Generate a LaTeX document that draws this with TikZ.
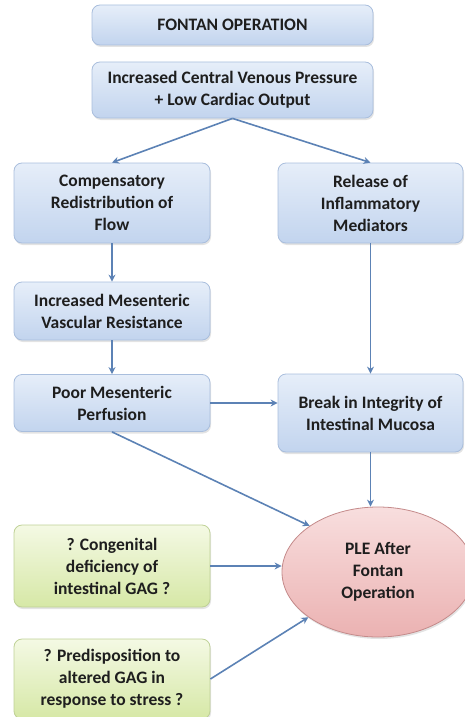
\documentclass[tikz,border=0pt]{standalone}
\usepackage{fontspec}
\setmainfont{Carlito}
\usetikzlibrary{shapes.geometric,arrows.meta,shadows}
\definecolor{boxtop}{HTML}{E6EEF9}
\definecolor{boxbottom}{HTML}{C2D4EE}
\definecolor{boxedge}{HTML}{A9BEDD}
\definecolor{greentop}{HTML}{F4F9E4}
\definecolor{greenbottom}{HTML}{D6E8A6}
\definecolor{greenedge}{HTML}{BFD196}
\definecolor{pinktop}{HTML}{F8DEDE}
\definecolor{pinkbottom}{HTML}{EBB2B2}
\definecolor{pinkedge}{HTML}{C48A8A}
\definecolor{arrowblue}{HTML}{5C82B5}
\definecolor{textgrey}{HTML}{1E1E1E}

\begin{document}
\begin{tikzpicture}[x=1pt,y=-1pt]
    % Styles
    \tikzstyle{blue box}=[rounded corners=8pt,draw=boxedge,thick,top color=boxtop,bottom color=boxbottom,
        align=center,text=textgrey,font=\bfseries\fontsize{17.5}{22}\selectfont,
        drop shadow={opacity=0.22,shadow xshift=1pt,shadow yshift=-2pt}]
    \tikzstyle{green box}=[blue box,draw=greenedge,top color=greentop,bottom color=greenbottom]
    \tikzstyle{result}=[ellipse,draw=pinkedge,thick,top color=pinktop,bottom color=pinkbottom,
        align=center,text=textgrey,font=\bfseries\fontsize{17.5}{22}\selectfont,
        inner sep=0pt,minimum width=192pt,minimum height=130pt,
        drop shadow={opacity=0.22,shadow xshift=1pt,shadow yshift=-2pt}]
    \tikzstyle{link}=[draw=arrowblue,line width=1.6pt,-{Stealth[length=7pt,width=7pt]}]
    \useasboundingbox (0,0) rectangle (465,717);
    %The graphic
    %top boxes
    \node[blue box,minimum width=281pt,minimum height=40pt] (fontan) at (232.5,25) {FONTAN OPERATION};
    \node[blue box,minimum width=281pt,minimum height=56pt] (cvp) at (232.5,90) {Increased Central Venous Pressure\\+ Low Cardiac Output};
    %left column
    \node[blue box,minimum width=196pt,minimum height=80pt] (flow) at (112,203) {Compensatory\\Redistribution of\\Flow};
    \node[blue box,minimum width=196pt,minimum height=58pt] (resist) at (112,311) {Increased Mesenteric\\Vascular Resistance};
    \node[blue box,minimum width=196pt,minimum height=57pt] (perf) at (112,403) {Poor Mesenteric\\Perfusion};
    %right column
    \node[blue box,minimum width=185pt,minimum height=80pt] (mediators) at (370.5,203) {Release of\\Inflammatory\\Mediators};
    \node[blue box,minimum width=185pt,minimum height=78pt] (mucosa) at (370.5,413) {Break in Integrity of\\Intestinal Mucosa};
    %bottom
    \node[result] (ple) at (378,572) {PLE After\\Fontan\\Operation};
    \node[green box,minimum width=196pt,minimum height=82pt] (gag) at (112,566) {? Congenital\\deficiency of\\intestinal GAG ?};
    \node[green box,minimum width=196pt,minimum height=80pt] (stress) at (112,679) {? Predisposition to\\altered GAG in\\response to stress ?};
    %arrows
    \draw[link] (cvp.south) -- (flow.north);
    \draw[link] (cvp.south) -- (mediators.north);
    \draw[link] (flow) -- (resist);
    \draw[link] (resist) -- (perf);
    \draw[link] (mediators) -- (mucosa);
    \draw[link] (perf.east) -- (perf.east -| mucosa.west);
    \draw[link] (mucosa.south) -- (mucosa.south |- ple.north);
    \draw[link] (perf.south) -- (ple.146);
    \draw[link] (gag.east) -- (gag.east -| ple.west);
    \draw[link] (stress.east) -- (ple.213);
\end{tikzpicture}
\end{document}
